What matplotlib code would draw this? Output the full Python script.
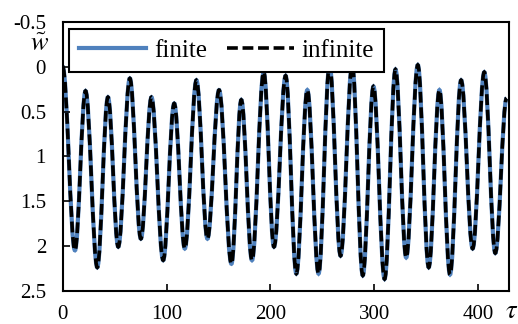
import matplotlib
matplotlib.use("Agg")
import matplotlib.pyplot as plt
from matplotlib.path import Path
from matplotlib.patches import PathPatch
from matplotlib.lines import Line2D

plt.rcParams['font.family'] = 'Liberation Serif'
plt.rcParams['mathtext.fontset'] = 'stix'

# extrema of the response (tau, w)
tau = [0, 11.8, 22, 33.3, 43.6, 53.5, 64.7, 75.3, 85.5, 96.8, 107.4, 117.6,
       128.8, 139.4, 150.6, 162.5, 172, 182.3, 193.6, 203.5, 214.7, 225,
       235.6, 246.4, 257, 267.6, 278.8, 289, 299.3, 310, 320.5, 330.8, 342,
       352.5, 362.8, 373, 383.7, 394.8, 406, 416.6, 427.5]
w = [0.0, 2.05, 0.27, 2.24, 0.34, 2.01, 0.13, 1.92, 0.34, 2.16, 0.41, 2.03,
     0.15, 1.92, 0.26, 2.2, 0.37, 2.16, 0.06, 2.01, 0.10, 2.31,
     0.26, 2.31, -0.02, 2.11, -0.02, 2.33, 0.22, 2.37, 0.03, 2.13, -0.02,
     2.24, 0.26, 2.32, 0.15, 2.03, 0.06, 2.08, 0.35]

series = ['finite', 'infinite']
yticks = [-0.5, 0, 0.5, 1, 1.5, 2, 2.5]
ylabels = ['-0.5', '0', '0.5', '1', '1.5', '2', '2.5']
xticks = [0, 100, 200, 300, 400]

blue = '#4F81BD'
dash = (0, (3.0, 1.3))


def smooth_path(t, v):
    # cubic bezier between successive extrema, flat tangents at each extremum
    verts = [(t[0], v[0])]
    codes = [Path.MOVETO]
    for i in range(1, len(t)):
        d = (t[i] - t[i - 1]) * 0.36
        verts += [(t[i - 1] + d, v[i - 1]), (t[i] - d, v[i]), (t[i], v[i])]
        codes += [Path.CURVE4] * 3
    return Path(verts, codes)


fig = plt.figure(figsize=(5.18, 3.24), dpi=100)
ax = fig.add_axes([0.121, 0.103, 0.862, 0.829])

p = smooth_path(tau, w)
ax.add_patch(PathPatch(p, fill=False, edgecolor=blue, lw=3.0, capstyle='butt'))
ax.add_patch(PathPatch(p, fill=False, edgecolor='black', lw=2.6,
                       linestyle=dash, capstyle='butt'))

ax.set_xlim(0, 430)
ax.set_ylim(2.5, -0.5)
ax.set_yticks(yticks)
ax.set_yticklabels(ylabels)
ax.set_xticks(xticks)
ax.tick_params(direction='in', length=5, width=1.2, labelsize=15)
ax.tick_params(axis='y', pad=12)
ax.tick_params(axis='x', pad=10)
for s in ax.spines.values():
    s.set_linewidth(1.5)

ax.text(-0.051, 0.914, r'$\tilde{w}$', transform=ax.transAxes, fontsize=19,
        ha='center', va='center')
ax.text(1.005, -0.08, r'$\tau$', transform=ax.transAxes, fontsize=19,
        ha='center', va='center')

handles = [Line2D([], [], color=blue, lw=3.0),
           Line2D([], [], color='black', lw=2.6, linestyle=dash)]
leg = ax.legend(handles, series, loc='upper left', bbox_to_anchor=(0.014, 0.974),
                borderaxespad=0, ncol=2, fontsize=18, handlelength=2.7,
                handletextpad=0.3, columnspacing=0.8, fancybox=False,
                framealpha=1, edgecolor='black', borderpad=0.4)
leg.get_frame().set_linewidth(1.5)

fig.savefig('out.png', dpi=100)
